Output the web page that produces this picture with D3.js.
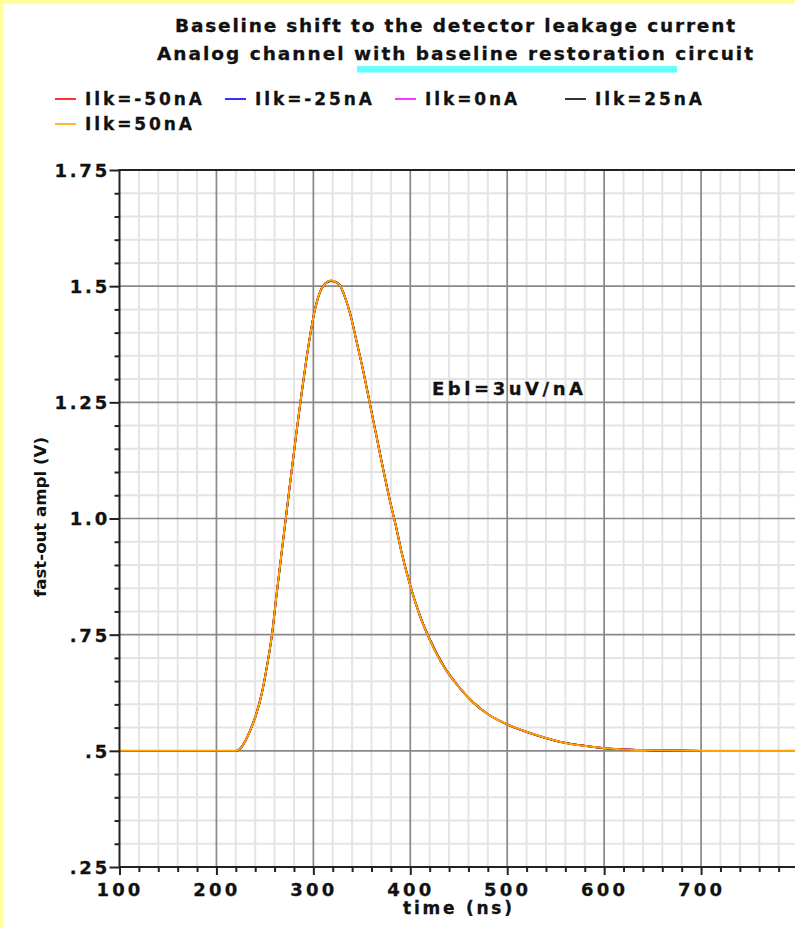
<!DOCTYPE html>
<html>
<head>
<meta charset="utf-8">
<script src="https://cdn.jsdelivr.net/npm/d3@7"></script>
<style>
  html, body { margin: 0; padding: 0; background: #fff; }
  svg { display: block; }
  text { font-family: "DejaVu Sans", Verdana, sans-serif; font-weight: bold; fill: #111; }
</style>
</head>
<body>
<svg id="chart" width="795" height="928"></svg>
<script>
// ---------------- data ----------------
const titleLines = ["Baseline shift to the detector leakage current",
                    "Analog channel with baseline restoration circuit"];
const seriesNames = ["Ilk=-50nA", "Ilk=-25nA", "Ilk=0nA", "Ilk=25nA", "Ilk=50nA"];
const seriesColors = ["#ff0000", "#0000ff", "#ff00ff", "#000000", "#ffa500"];
const xTickValues = [100, 200, 300, 400, 500, 600, 700];
const xTickLabels = ["100", "200", "300", "400", "500", "600", "700"];
const yTickValues = [0.25, 0.5, 0.75, 1.0, 1.25, 1.5, 1.75];
const yTickLabels = [".25", ".5", ".75", "1.0", "1.25", "1.5", "1.75"];
const annotation = "Ebl=3uV/nA";
const xLabel = "time (ns)";
const yLabel = "fast-out ampl (V)";

// time samples (ns)
const time = [100,220,225,230,235,240,247,252,257,262,267,272,277,282,287,292,297,302,307,312,318,322,327,332,338,345,352,358,365,372,379,385,391,400,410,420,435,450,465,480,500,530,560,590,620,660,700,800];

// amplitude (V) per leakage current; the four first traces stop at 700 ns
const vM50 = [0.500,0.500,0.506,0.522,0.545,0.573,0.626,0.681,0.746,0.836,0.923,1.009,1.094,1.177,1.257,1.332,1.399,1.454,1.489,1.506,1.512,1.510,1.503,1.480,1.440,1.377,1.312,1.250,1.178,1.106,1.038,0.985,0.927,0.855,0.790,0.740,0.680,0.638,0.604,0.579,0.557,0.534,0.517,0.508,0.503,0.501,0.500,null];
const vM25 = [0.500,0.500,0.506,0.522,0.545,0.572,0.625,0.680,0.745,0.835,0.922,1.008,1.093,1.176,1.256,1.331,1.398,1.453,1.488,1.505,1.512,1.510,1.503,1.480,1.440,1.377,1.312,1.250,1.178,1.106,1.038,0.985,0.927,0.855,0.790,0.740,0.680,0.638,0.604,0.579,0.557,0.534,0.517,0.508,0.503,0.501,0.500,null];
const v0   = [0.500,0.500,0.506,0.522,0.545,0.572,0.625,0.680,0.745,0.835,0.922,1.008,1.093,1.176,1.256,1.331,1.398,1.453,1.488,1.505,1.512,1.510,1.503,1.480,1.440,1.377,1.312,1.250,1.178,1.106,1.038,0.985,0.927,0.855,0.790,0.740,0.680,0.638,0.604,0.579,0.557,0.534,0.517,0.508,0.503,0.501,0.500,null];
const vP25 = [0.500,0.500,0.506,0.522,0.545,0.572,0.625,0.680,0.745,0.834,0.921,1.007,1.092,1.175,1.255,1.330,1.398,1.453,1.488,1.505,1.511,1.510,1.503,1.480,1.441,1.378,1.313,1.251,1.179,1.107,1.039,0.986,0.928,0.856,0.791,0.741,0.681,0.638,0.604,0.579,0.557,0.534,0.517,0.508,0.503,0.501,0.500,null];
const vP50 = [0.500,0.500,0.506,0.522,0.545,0.572,0.625,0.680,0.745,0.835,0.922,1.008,1.093,1.176,1.256,1.331,1.398,1.453,1.488,1.505,1.512,1.510,1.503,1.480,1.440,1.377,1.312,1.250,1.178,1.106,1.038,0.985,0.927,0.855,0.790,0.740,0.680,0.638,0.604,0.579,0.557,0.534,0.517,0.508,0.503,0.501,0.500,0.500];
const seriesValues = [vM50, vM25, v0, vP25, vP50];

// ---------------- layout ----------------
const W = 795, H = 928;
const plot = { left: 119.5, top: 170, bottom: 867, right: 798 };
const svg = d3.select("#chart");

const x = d3.scaleLinear().domain([100, 800]).range([plot.left, plot.right]);
const y = d3.scaleLinear().domain([0.25, 1.75]).range([plot.bottom, plot.top]);

// background + yellow frame
svg.append("rect").attr("x", 0).attr("y", 0).attr("width", W).attr("height", H).attr("fill", "#fff");
svg.append("rect").attr("x", 0).attr("y", 0).attr("width", 3.5).attr("height", H).attr("fill", "#ffff99");
svg.append("rect").attr("x", 0).attr("y", 0).attr("width", W).attr("height", 4).attr("fill", "#ffff99");

// titles
svg.append("text").attr("x", 175).attr("y", 31.5).attr("font-size", 18.5)
  .attr("stroke", "#111").attr("stroke-width", 0.3)
  .attr("textLength", 560).attr("lengthAdjust", "spacing").text(titleLines[0]);
svg.append("rect").attr("x", 357).attr("y", 66).attr("width", 320).attr("height", 6.5).attr("fill", "#66ffff");
svg.append("text").attr("x", 157).attr("y", 60).attr("font-size", 18.5)
  .attr("stroke", "#111").attr("stroke-width", 0.3)
  .attr("textLength", 596).attr("lengthAdjust", "spacing").text(titleLines[1]);

// legend
const legendPos = [[55, 99], [225, 99], [395, 99], [565, 99], [55, 124]];
seriesNames.forEach((name, i) => {
  const [lx, ly] = legendPos[i];
  svg.append("line").attr("x1", lx).attr("x2", lx + 21).attr("y1", ly).attr("y2", ly)
    .attr("stroke", seriesColors[i]).attr("stroke-width", 1.6);
  svg.append("text").attr("x", lx + 30).attr("y", ly + 6).attr("font-size", 17)
    .attr("stroke", "#111").attr("stroke-width", 0.3)
    .attr("letter-spacing", "2.9px").text(name);
});

// grid
const g = svg.append("g");
const minorX = d3.range(120, 800, 20).filter(v => v % 100 !== 0);
const majorX = d3.range(200, 801, 100);
const minorY = d3.range(0.30, 1.7501, 0.05).map(v => +v.toFixed(2)).filter(v => Math.abs(v / 0.25 - Math.round(v / 0.25)) > 1e-6);
const majorY = [0.5, 0.75, 1.0, 1.25, 1.5];

g.selectAll(".mx").data(minorX).join("line")
  .attr("x1", d => x(d)).attr("x2", d => x(d)).attr("y1", plot.top).attr("y2", plot.bottom)
  .attr("stroke", "#e4e4e4").attr("stroke-width", 2);
g.selectAll(".my").data(minorY).join("line")
  .attr("x1", plot.left).attr("x2", W).attr("y1", d => y(d)).attr("y2", d => y(d))
  .attr("stroke", "#e4e4e4").attr("stroke-width", 2);
g.selectAll(".Mx").data(majorX).join("line")
  .attr("x1", d => x(d)).attr("x2", d => x(d)).attr("y1", plot.top).attr("y2", plot.bottom)
  .attr("stroke", "#888").attr("stroke-width", 1.7);
g.selectAll(".My").data(majorY).join("line")
  .attr("x1", plot.left).attr("x2", W).attr("y1", d => y(d)).attr("y2", d => y(d))
  .attr("stroke", "#888").attr("stroke-width", 1.7);

// curves
const line = d3.line()
  .defined(d => d[1] !== null)
  .x(d => x(d[0])).y(d => y(d[1]))
  .curve(d3.curveMonotoneX);
seriesValues.forEach((vals, i) => {
  svg.append("path")
    .datum(time.map((t, k) => [t, vals[k]]))
    .attr("fill", "none")
    .attr("stroke", seriesColors[i])
    .attr("stroke-width", i === 4 ? 2 : 1.8)
    .attr("d", line);
});

// axes frame
svg.append("line").attr("x1", plot.left).attr("x2", plot.left).attr("y1", plot.top - 1).attr("y2", plot.bottom + 1)
  .attr("stroke", "#222").attr("stroke-width", 2);
svg.append("line").attr("x1", plot.left).attr("x2", W).attr("y1", plot.top).attr("y2", plot.top)
  .attr("stroke", "#222").attr("stroke-width", 2);
svg.append("line").attr("x1", plot.left).attr("x2", W).attr("y1", plot.bottom).attr("y2", plot.bottom)
  .attr("stroke", "#222").attr("stroke-width", 2);

// y axis
const yMinorAxis = d3.axisLeft(y).tickValues(minorY).tickSize(5).tickFormat("");
const yMajorAxis = d3.axisLeft(y).tickValues(yTickValues).tickSize(10).tickPadding(0)
  .tickFormat((d, i) => yTickLabels[i]);
const ya1 = svg.append("g").attr("transform", `translate(${plot.left},0)`).call(yMinorAxis);
const ya2 = svg.append("g").attr("transform", `translate(${plot.left},0)`).call(yMajorAxis);
[ya1, ya2].forEach(a => {
  a.select(".domain").remove();
  a.selectAll(".tick line").attr("stroke", "#222").attr("stroke-width", 2);
});
ya2.selectAll(".tick text")
  .attr("font-size", 18).attr("stroke", "#111").attr("stroke-width", 0.3)
  .attr("fill", "#111").attr("letter-spacing", "2.8px").attr("dy", "0.36em").attr("x", -9.5);

// x axis
const xMinorAxis = d3.axisBottom(x).tickValues(minorX).tickSize(5).tickFormat("");
const xMajorAxis = d3.axisBottom(x).tickValues(xTickValues).tickSize(8)
  .tickFormat((d, i) => xTickLabels[i]);
const xa1 = svg.append("g").attr("transform", `translate(0,${plot.bottom})`).call(xMinorAxis);
const xa2 = svg.append("g").attr("transform", `translate(0,${plot.bottom})`).call(xMajorAxis);
[xa1, xa2].forEach(a => {
  a.select(".domain").remove();
  a.selectAll(".tick line").attr("stroke", "#222").attr("stroke-width", 2);
});
xa2.selectAll(".tick text")
  .attr("font-size", 18).attr("stroke", "#111").attr("stroke-width", 0.3)
  .attr("fill", "#111").attr("letter-spacing", "3.2px").attr("y", 28.5).attr("dy", 0);

// axis titles
svg.append("text").attr("x", 403).attr("y", 914).attr("font-size", 17)
  .attr("stroke", "#111").attr("stroke-width", 0.3)
  .attr("textLength", 109).attr("lengthAdjust", "spacing").text(xLabel);
svg.append("text").attr("transform", "translate(46,597) rotate(-90)")
  .attr("font-size", 16.5)
  .attr("textLength", 160).attr("lengthAdjust", "spacingAndGlyphs").text(yLabel);

// annotation
svg.append("text").attr("x", 432).attr("y", 395).attr("font-size", 18)
  .attr("stroke", "#111").attr("stroke-width", 0.3)
  .attr("textLength", 151).attr("lengthAdjust", "spacing").text(annotation);
</script>
</body>
</html>
